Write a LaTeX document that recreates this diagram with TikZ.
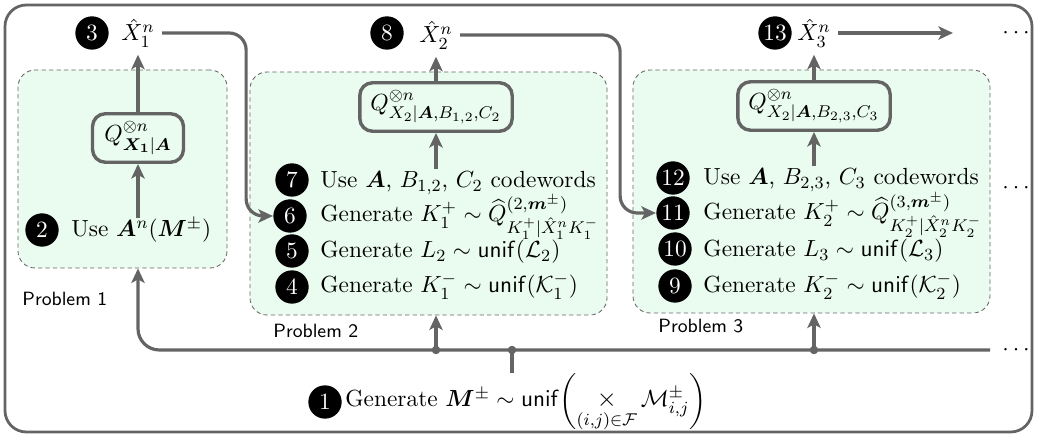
\documentclass[tikz,border=0pt]{standalone}
\usepackage{amsmath,amssymb}
\usepackage{bm}
\usetikzlibrary{arrows.meta,positioning,fit}
\definecolor{linegray}{RGB}{100,100,100}
\definecolor{panelgreen}{RGB}{234,251,240}
\tikzset{
    numc/.style={circle, fill=black, text=white, inner sep=0.5pt,
                 minimum size=0.55cm},
    panel/.style={draw=black!60, dash pattern=on 2pt off 1.5pt, fill=panelgreen,
                  rounded corners=8pt, inner sep=0pt},
    qbox/.style={draw=linegray, line width=1.6pt, rounded corners=6pt,
                 fill=panelgreen, minimum height=0.8cm, inner xsep=5pt},
    stext/.style={anchor=base west, inner sep=0pt},
    plabel/.style={font=\sffamily\small, anchor=base west, inner sep=0pt},
}

\begin{document}
\begin{tikzpicture}[
    x=0.0165cm, y=-0.0165cm,
    font=\fontsize{10.95}{13.6}\selectfont,
    line/.style={draw=linegray, line width=1.5pt},
    arr/.style={line, -{Stealth[length=2.4mm, width=2.2mm, inset=0.6mm]}},
]
    \useasboundingbox (0,0) rectangle (1037,437);
    \draw[line, line width=1.3pt, rounded corners=10pt] (5,5) rectangle (1032,432);

    \node[panel, fit={(18,70) (227,268)}] (p1) {};
    \node[panel, fit={(250,72) (607,315)}] (p2) {};
    \node[panel, fit={(633,70) (990,313)}] (p3) {};
    \node[plabel] (l1) at (22,306) {Problem 1};
    \node[plabel] (l2) at (273,338) {Problem 2};
    \node[plabel] (l3) at (658,333) {Problem 3};

    \node[numc] (c3) at (92,33) {3};
    \node (x1) at (138,33) {$\hat{X}_1^n$};
    \node[qbox, minimum width=1.5cm] (q1) at (138,138) {$Q^{\otimes n}_{\bm{X_1}|\bm{A}}$};
    \node[numc] (c2) at (42,230) {2};
    \node[stext] (t2) at (71,237) {Use $\bm{A}^n(\bm{M}^{\pm})$};
    \draw[arr] (t2.north -| q1.south) -- (q1.south);
    \draw[arr] (q1) -- (x1);

    \node[numc] (c8) at (387,33) {8};
    \node (x2) at (436,35) {$\hat{X}_2^n$};
    \node[qbox] (q2) at (436,107) {$Q^{\otimes n}_{X_2|\bm{A},B_{1,2},C_2}$};
    \node[numc] (c7) at (292,180) {7};
    \node[stext] (t7) at (320,188) {Use $\bm{A}$, $B_{1,2}$, $C_2$ codewords};
    \node[numc] (c6) at (290,216) {6};
    \node[stext] (t6) at (320,222)
        {Generate $K_1^+\sim\widehat{Q}^{(2,\bm{m}^{\pm})}_{K_1^+|\hat{X}_1^nK_1^-}$};
    \node[numc] (c5) at (292,251) {5};
    \node[stext] (t5) at (320,258) {Generate $L_2\sim\mathsf{unif}(\mathcal{L}_2)$};
    \node[numc] (c4) at (292,287) {4};
    \node[stext] (t4) at (320,293) {Generate $K_1^-\sim\mathsf{unif}(\mathcal{K}_1^-)$};
    \draw[arr] (t7.north -| q2.south) ++(0,-2) -- (q2.south);
    \draw[arr] (q2) -- (x2);

    \node[numc] (c13) at (775,33) {13};
    \node (x3) at (814,33) {$\hat{X}_3^n$};
    \node[qbox] (q3) at (814,106) {$Q^{\otimes n}_{X_2|\bm{A},B_{2,3},C_3}$};
    \node[numc] (c12) at (673,178) {12};
    \node[stext] (t12) at (703,185) {Use $\bm{A}$, $B_{2,3}$, $C_3$ codewords};
    \node[numc] (c11) at (673,213) {11};
    \node[stext] (t11) at (703,220)
        {Generate $K_2^+\sim\widehat{Q}^{(3,\bm{m}^{\pm})}_{K_2^+|\hat{X}_2^nK_2^-}$};
    \node[numc] (c10) at (675,249) {10};
    \node[stext] (t10) at (703,257) {Generate $L_3\sim\mathsf{unif}(\mathcal{L}_3)$};
    \node[numc] (c9) at (675,286) {9};
    \node[stext] (t9) at (703,293) {Generate $K_2^-\sim\mathsf{unif}(\mathcal{K}_2^-)$};
    \draw[arr] (t12.north -| q3.south) ++(0,-2) -- (q3.south);
    \draw[arr] (q3) -- (x3);

    \draw[arr, rounded corners=8pt] (x1.east) -- ++(84,0) |- (c6.west);
    \draw[arr, rounded corners=8pt] (x2.east) -- ++(160,0) |- (c11.west);
    \coordinate (x3end) at (953,33);
    \draw[arr] (x3.east) -- (x3end);

    \node (dt) at (1018,33) {$\cdots$};
    \node (dm) at (1018,188) {$\cdots$};
    \node (db) at (1018,350) {$\cdots$};

    \coordinate (busR) at (990,350);
    \coordinate (j1) at (512,350);
    \node[numc] (c1) at (325,402) {1};
    \node[stext] (t1) at (345,407)
        {Generate $\bm{M}^{\pm}\sim\mathsf{unif}\biggl(\mathop{\text{\large$\times$}}\limits_{(i,j)\in\mathcal{F}}\mathcal{M}^{\pm}_{i,j}\biggr)$};
    \draw[arr, rounded corners=10pt] (busR) -| (q1 |- p1.south);
    \draw[arr] (q2 |- busR) -- (q2 |- p2.south);
    \draw[arr] (q3 |- busR) -- (q3 |- p3.south);
    \draw[line] (j1) -- (j1 |- t1.north);
    \fill[linegray] (q2 |- busR) circle (0.07cm) (j1) circle (0.07cm)
        (q3 |- busR) circle (0.07cm);
\end{tikzpicture}
\end{document}
